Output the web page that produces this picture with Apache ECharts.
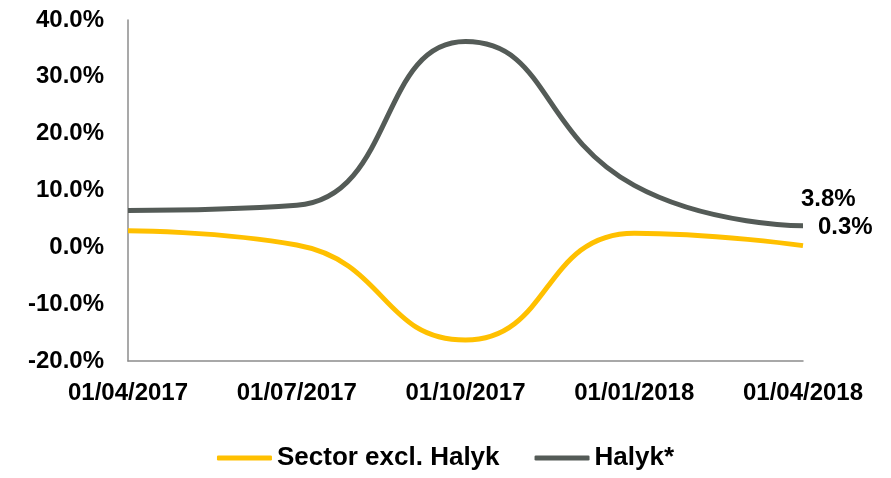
<!DOCTYPE html>
<html>
<head>
<meta charset="utf-8">
<script src="https://cdn.jsdelivr.net/npm/echarts@6/dist/echarts.min.js"></script>
<style>
  html, body { margin: 0; padding: 0; background: #fff; }
  #chart { width: 891px; height: 478px; }
</style>
</head>
<body>
<div id="chart"></div>
<script>
const dates = ['01/04/2017', '01/07/2017', '01/10/2017', '01/01/2018', '01/04/2018']
const sector = [2.9, 0.4, -16.3, 2.5, 0.3]     // Sector excl. Halyk, %
const halyk = [6.5, 7.4, 36.2, 10.9, 3.8]      // Halyk*, %

const fontFamily = '"Liberation Sans", Arial, sans-serif'

// value label on the last point only
function endLabel(offset) {
  return {
    show: true,
    offset: offset,
    formatter: p => p.value.toFixed(1) + '%',
    color: '#000',
    fontWeight: 'bold',
    fontSize: 24,
    fontFamily: fontFamily
  }
}

const chart = echarts.init(document.getElementById('chart'))
chart.setOption({
  animation: false,
  grid: { left: 128, right: 88, top: 20, bottom: 117 },
  legend: {
    bottom: 2,
    left: 'center',
    icon: 'roundRect',
    itemWidth: 55,
    itemHeight: 5,
    itemGap: 35,
    textStyle: { fontSize: 26, fontWeight: 'bold', color: '#000', fontFamily: fontFamily },
    data: ['Sector excl. Halyk', 'Halyk*']
  },
  xAxis: {
    type: 'category',
    data: dates,
    boundaryGap: false,
    axisLine: { onZero: false, lineStyle: { color: '#8c8c8c', width: 1.5 } },
    axisTick: { show: false },
    axisLabel: { margin: 20, fontSize: 24, fontWeight: 'bold', color: '#000', fontFamily: fontFamily }
  },
  yAxis: {
    type: 'value',
    min: -20,
    max: 40,
    interval: 10,
    splitLine: { show: false },
    axisLine: { show: true, lineStyle: { color: '#8c8c8c', width: 1.5 } },
    axisTick: { show: false },
    axisLabel: {
      margin: 24,
      fontSize: 24,
      fontWeight: 'bold',
      color: '#000',
      fontFamily: fontFamily,
      formatter: v => v.toFixed(1) + '%'
    }
  },
  series: [{
    name: 'Sector excl. Halyk',
    type: 'line',
    smooth: 0.5,
    symbol: 'none',
    data: sector,
    endLabel: endLabel([7, -18]),
    itemStyle: { color: '#FFC000' },
    lineStyle: { color: '#FFC000', width: 5 }
  }, {
    name: 'Halyk*',
    type: 'line',
    smooth: 0.5,
    symbol: 'none',
    data: halyk,
    endLabel: endLabel([-10, -26]),
    itemStyle: { color: '#545B57' },
    lineStyle: { color: '#545B57', width: 5 }
  }]
})
</script>
</body>
</html>
